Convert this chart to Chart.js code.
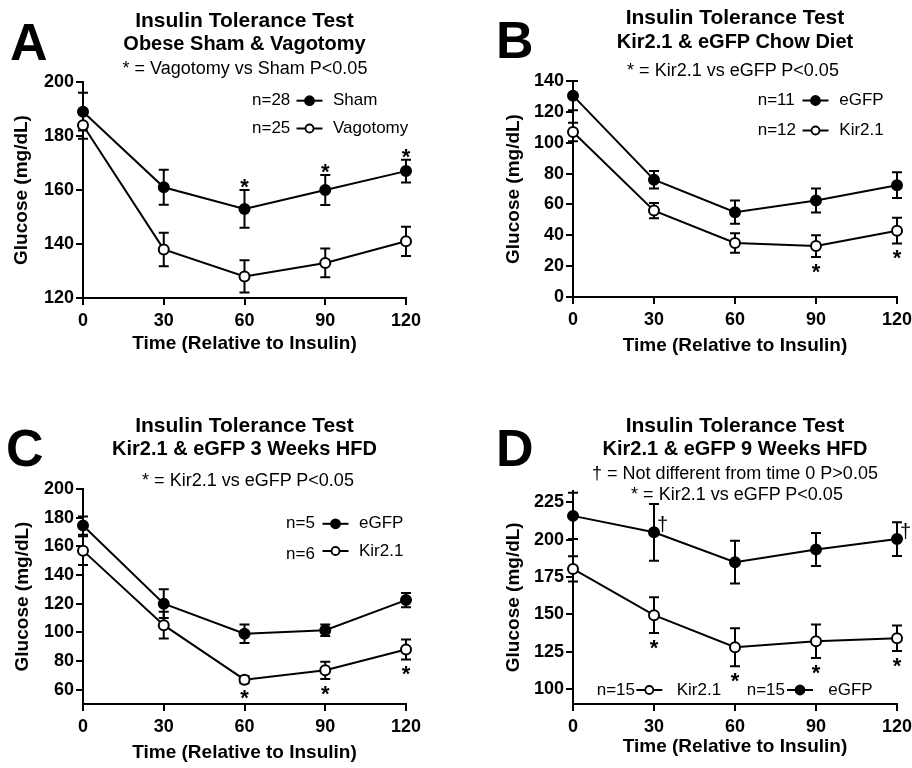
<!DOCTYPE html>
<html>
<head>
<meta charset="utf-8">
<script src="https://cdn.jsdelivr.net/npm/chart.js@4.4.0/dist/chart.umd.min.js"></script>
<style>
  html, body { margin: 0; padding: 0; background: #fff; }
  body { width: 912px; height: 768px; position: relative; overflow: hidden;
         font-family: "Liberation Sans", Arial, sans-serif; color: #000; }
  .panel { position: absolute; width: 456px; height: 384px; }
  .txt { position: absolute; white-space: nowrap; }
</style>
</head>
<body>
<div class="panel" style="left:0;top:0"><canvas id="chartA"></canvas></div>
<div class="panel" style="left:456px;top:0"><canvas id="chartB"></canvas></div>
<div class="panel" style="left:0;top:384px"><canvas id="chartC"></canvas></div>
<div class="panel" style="left:456px;top:384px"><canvas id="chartD"></canvas></div>
<script>
// Time after insulin (min)
const timePoints = [0, 30, 60, 90, 120];
const timeTicks = [0, 30, 60, 90, 120];

// A - obese sham vs vagotomy
const shamMean = [189, 161, 153, 160, 167];
const shamSem = [7, 6.5, 7, 5.6, 4.2];
const vagotomyMean = [184, 138, 128, 133, 141];
const vagotomySem = [5, 6.2, 6, 5.3, 5.4];
const ticksA = [120, 140, 160, 180, 200];

// B - chow diet
const gfpChowMean = [130.5, 76, 55, 62.5, 72.5];
const gfpChowSem = [9.5, 5.6, 7.5, 7.8, 8.4];
const kirChowMean = [107, 56, 35, 33, 43];
const kirChowSem = [6, 5, 6.3, 7, 8.4];
const ticksB = [0, 20, 40, 60, 80, 100, 120, 140];

// C - 3 weeks HFD
const gfp3wMean = [174.5, 120, 99, 101.5, 122.5];
const gfp3wSem = [6.4, 10, 6.5, 4, 5];
const kir3wMean = [157, 105, 67, 73.5, 88];
const kir3wSem = [10, 9.3, 2.5, 6, 7];
const ticksC = [60, 80, 100, 120, 140, 160, 180, 200];

// D - 9 weeks HFD
const gfp9wMean = [216, 205, 185, 193.5, 200.5];
const gfp9wSem = [15.5, 19, 14.3, 11, 11.3];
const kir9wMean = [180.5, 149.5, 128, 132, 134];
const kir9wSem = [8.5, 12, 12.7, 11.2, 8.5];
const ticksD = [100, 125, 150, 175, 200, 225];

Chart.defaults.font.family = '"Liberation Sans", Arial, sans-serif';
Chart.defaults.color = '#000';

// HTML text, placed by baseline
function addText(str, x, baseline, size, bold, center) {
    const d = document.createElement('div');
    d.className = 'txt';
    d.textContent = str;
    d.style.fontSize = size + 'px';
    d.style.lineHeight = size + 'px';
    d.style.fontWeight = bold ? 'bold' : 'normal';
    d.style.top = (baseline - 0.8465 * size) + 'px';
    if (center) {
        d.style.left = (x - 300) + 'px';
        d.style.width = '600px';
        d.style.textAlign = 'center';
    } else {
        d.style.left = x + 'px';
    }
    document.body.appendChild(d);
}

addText('A', 10, 60, 52, true);
addText('Insulin Tolerance Test', 244.5, 27, 21, true, true);
addText('Obese Sham & Vagotomy', 244.5, 50, 20, true, true);
addText('* = Vagotomy vs Sham P<0.05', 245, 74, 18, false, true);

addText('B', 496, 58.5, 52, true);
addText('Insulin Tolerance Test', 735, 24, 21, true, true);
addText('Kir2.1 & eGFP Chow Diet', 735, 48, 20, true, true);
addText('* = Kir2.1 vs eGFP P<0.05', 733, 76, 18, false, true);

addText('C', 6, 466, 52, true);
addText('Insulin Tolerance Test', 244.5, 432, 21, true, true);
addText('Kir2.1 & eGFP 3 Weeks HFD', 244.5, 455, 20, true, true);
addText('* = Kir2.1 vs eGFP P<0.05', 248, 486, 18, false, true);

addText('D', 496, 466.5, 52, true);
addText('Insulin Tolerance Test', 735, 432, 21, true, true);
addText('Kir2.1 & eGFP 9 Weeks HFD', 735, 455, 20, true, true);
addText('\u2020 = Not different from time 0 P>0.05', 735, 479.5, 18, false, true);
addText('* = Kir2.1 vs eGFP P<0.05', 737, 500, 18, false, true);

// SEM bars, drawn under the lines and points
const errorBarPlugin = {
    id: 'errorBars',
    beforeDatasetsDraw(chart) {
        const ctx = chart.ctx;
        const xs = chart.scales.x, ys = chart.scales.y;
        ctx.save();
        ctx.strokeStyle = '#000';
        ctx.lineWidth = 2;
        chart.data.datasets.forEach(ds => {
            ds.data.forEach((pt, i) => {
                const px = xs.getPixelForValue(pt.x);
                const top = ys.getPixelForValue(pt.y + ds.sem[i]);
                const bot = ys.getPixelForValue(pt.y - ds.sem[i]);
                ctx.beginPath();
                ctx.moveTo(px, top); ctx.lineTo(px, bot);
                ctx.moveTo(px - 5, top); ctx.lineTo(px + 5, top);
                ctx.moveTo(px - 5, bot); ctx.lineTo(px + 5, bot);
                ctx.stroke();
            });
        });
        ctx.restore();
    }
};

// asterisks and daggers
const sigPlugin = {
    id: 'sigMarks',
    afterDatasetsDraw(chart, args, opts) {
        const ctx = chart.ctx;
        const xs = chart.scales.x, ys = chart.scales.y;
        ctx.save();
        ctx.fillStyle = '#000';
        ctx.textAlign = 'center';
        ctx.textBaseline = 'alphabetic';
        (opts.marks || []).forEach(m => {
            const ds = chart.data.datasets[m.dataset];
            m.times.forEach(t => {
                const i = timePoints.indexOf(t);
                const pt = ds.data[i];
                const px = xs.getPixelForValue(pt.x);
                if (m.where === 'above') {
                    const cy = ys.getPixelForValue(pt.y + ds.sem[i]) - 8.5;
                    ctx.font = 'bold 22px "Liberation Sans", Arial, sans-serif';
                    ctx.fillText('*', px, cy + 12.3);
                } else if (m.where === 'below') {
                    const cy = ys.getPixelForValue(pt.y - ds.sem[i]) + 9.5;
                    ctx.font = 'bold 22px "Liberation Sans", Arial, sans-serif';
                    ctx.fillText('*', px, cy + 12.3);
                } else {
                    const cy = ys.getPixelForValue(pt.y) - 7;
                    ctx.font = '20px "Liberation Sans", Arial, sans-serif';
                    ctx.fillText('\u2020', px + 8.5, cy + 6);
                }
            });
        });
        ctx.restore();
    }
};

// "n=.. -o- name" legend rows
const nLegendPlugin = {
    id: 'nLegend',
    afterDraw(chart, args, opts) {
        const ctx = chart.ctx;
        ctx.save();
        ctx.font = '17px "Liberation Sans", Arial, sans-serif';
        ctx.fillStyle = '#000';
        ctx.strokeStyle = '#000';
        ctx.textAlign = 'left';
        ctx.textBaseline = 'middle';
        (opts.rows || []).forEach(r => {
            ctx.fillText(r.n, r.nx, r.ny !== undefined ? r.ny : r.y);
            ctx.fillText(r.label, r.lx, r.y);
            ctx.lineWidth = 2;
            ctx.beginPath();
            ctx.moveTo(r.mx - 13, r.y);
            ctx.lineTo(r.mx + 13, r.y);
            ctx.stroke();
            ctx.beginPath();
            ctx.arc(r.mx, r.y, r.filled ? 4.5 : 4, 0, Math.PI * 2);
            ctx.fillStyle = r.filled ? '#000' : '#fff';
            ctx.fill();
            ctx.lineWidth = 1.8;
            ctx.stroke();
            ctx.fillStyle = '#000';
        });
        ctx.restore();
    }
};

function series(label, mean, sem, filled) {
    return {
        label: label,
        data: timePoints.map((t, i) => ({ x: t, y: mean[i] })),
        sem: sem,
        borderColor: '#000',
        borderWidth: 2,
        pointRadius: 5,
        pointBorderWidth: 2,
        pointBorderColor: '#000',
        pointBackgroundColor: filled ? '#000' : '#fff',
        tension: 0,
        clip: false
    };
}

function makeChart(id, cfg) {
    const axisGrid = { drawOnChartArea: false, drawTicks: true, tickLength: 7, color: '#000', lineWidth: 2 };
    const axisBorder = { color: '#000', width: 2 };
    return new Chart(document.getElementById(id), {
        type: 'line',
        data: { datasets: cfg.datasets },
        options: {
            responsive: true,
            maintainAspectRatio: false,
            animation: false,
            devicePixelRatio: 1,
            layout: { padding: cfg.padding },
            plugins: {
                legend: { display: false },
                tooltip: { enabled: false },
                nLegend: { rows: cfg.legendRows },
                sigMarks: { marks: cfg.marks }
            },
            scales: {
                x: {
                    type: 'linear',
                    min: 0,
                    max: 120,
                    afterBuildTicks: s => { s.ticks = timeTicks.map(v => ({ value: v })); },
                    ticks: { font: { size: 18, weight: 'bold' }, color: '#000', padding: 5, maxRotation: 0, autoSkip: false },
                    grid: axisGrid,
                    border: axisBorder,
                    title: {
                        display: true,
                        text: 'Time (Relative to Insulin)',
                        font: { size: 19, weight: 'bold' },
                        color: '#000',
                        padding: { top: 0, bottom: cfg.xTitlePad }
                    },
                    afterFit: s => { s.height = cfg.xHeight; s.paddingLeft = 0; s.paddingRight = 0; }
                },
                y: {
                    type: 'linear',
                    min: cfg.yMin,
                    max: cfg.yMax,
                    afterBuildTicks: s => { s.ticks = cfg.yTicks.map(v => ({ value: v })); },
                    ticks: { font: { size: 18, weight: 'bold' }, color: '#000', padding: 2 },
                    grid: axisGrid,
                    border: axisBorder,
                    title: {
                        display: true,
                        text: 'Glucose (mg/dL)',
                        font: { size: 19, weight: 'bold' },
                        color: '#000',
                        padding: { top: cfg.yTitlePad, bottom: 0 }
                    },
                    afterFit: s => { s.width = cfg.yWidth; }
                }
            }
        },
        plugins: [errorBarPlugin, sigPlugin, nLegendPlugin]
    });
}

makeChart('chartA', {
    datasets: [series('Sham', shamMean, shamSem, true), series('Vagotomy', vagotomyMean, vagotomySem, false)],
    padding: { top: 82, right: 50, bottom: 0, left: 0 },
    xHeight: 86, xTitlePad: 28.6, yWidth: 83, yTitlePad: 10,
    yMin: 120, yMax: 200, yTicks: ticksA,
    legendRows: [
        { n: 'n=28', nx: 252, mx: 309.5, label: 'Sham', lx: 333, y: 100.7, filled: true },
        { n: 'n=25', nx: 252, mx: 309.5, label: 'Vagotomy', lx: 333, y: 128.5, filled: false }
    ],
    marks: [{ dataset: 0, times: [60, 90, 120], where: 'above' }]
});

makeChart('chartB', {
    datasets: [series('eGFP', gfpChowMean, gfpChowSem, true), series('Kir2.1', kirChowMean, kirChowSem, false)],
    padding: { top: 81, right: 15, bottom: 0, left: 0 },
    xHeight: 87, xTitlePad: 26.6, yWidth: 117, yTitlePad: 46.3,
    yMin: 0, yMax: 140, yTicks: ticksB,
    legendRows: [
        { n: 'n=11', nx: 301.7, mx: 359.5, label: 'eGFP', lx: 383.3, y: 100.5, filled: true },
        { n: 'n=12', nx: 301.7, mx: 359.5, label: 'Kir2.1', lx: 383.3, y: 130.5, filled: false }
    ],
    marks: [{ dataset: 1, times: [90, 120], where: 'below' }]
});

makeChart('chartC', {
    datasets: [series('eGFP', gfp3wMean, gfp3wSem, true), series('Kir2.1', kir3wMean, kir3wSem, false)],
    padding: { top: 105, right: 50, bottom: 0, left: 0 },
    xHeight: 64, xTitlePad: 4.1, yWidth: 83, yTitlePad: 11.3,
    yMin: 50, yMax: 200, yTicks: ticksC,
    legendRows: [
        { n: 'n=5', nx: 286, mx: 335.5, label: 'eGFP', lx: 359, y: 139.8, filled: true },
        { n: 'n=6', nx: 286, mx: 335.5, label: 'Kir2.1', lx: 359, y: 167, ny: 170, filled: false }
    ],
    marks: [{ dataset: 1, times: [60, 90, 120], where: 'below' }]
});

makeChart('chartD', {
    datasets: [series('eGFP', gfp9wMean, gfp9wSem, true), series('Kir2.1', kir9wMean, kir9wSem, false)],
    padding: { top: 106.5, right: 15, bottom: 0, left: 0 },
    xHeight: 64, xTitlePad: 9.6, yWidth: 117, yTitlePad: 46.3,
    yMin: 90, yMax: 233, yTicks: ticksD,
    legendRows: [
        { n: 'n=15', nx: 140.7, mx: 193.3, label: 'Kir2.1', lx: 220.7, y: 306, filled: false },
        { n: 'n=15', nx: 290.7, mx: 344, label: 'eGFP', lx: 372.3, y: 306, filled: true }
    ],
    marks: [
        { dataset: 1, times: [30, 60, 90, 120], where: 'below' },
        { dataset: 0, times: [30, 120], where: 'right' }
    ]
});
</script>
</body>
</html>
